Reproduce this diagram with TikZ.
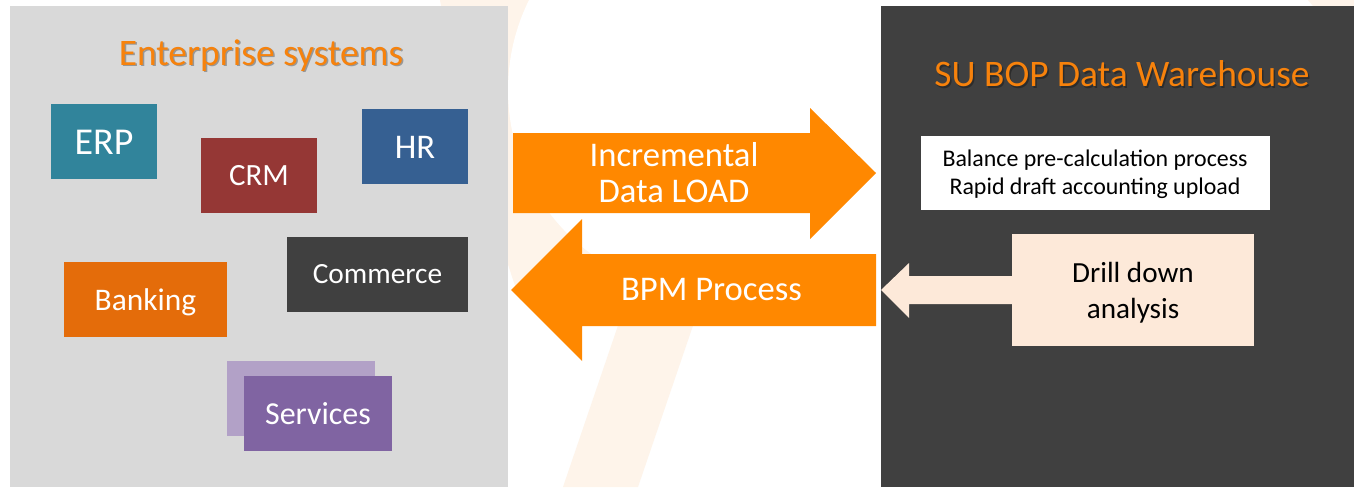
\documentclass[tikz,border=0pt]{standalone}
\usepackage{fontspec}
\setmainfont{Carlito}
\usetikzlibrary{positioning}

\definecolor{panelgray}{HTML}{D9D9D9}
\definecolor{paneldark}{HTML}{404040}
\definecolor{bigorange}{HTML}{FF8800}
\definecolor{titleorange}{HTML}{F7820C}
\definecolor{erpteal}{HTML}{31849B}
\definecolor{crmred}{HTML}{953735}
\definecolor{hrblue}{HTML}{366092}
\definecolor{bankorange}{HTML}{E46C0A}
\definecolor{servpurple}{HTML}{8064A2}
\definecolor{servlilac}{HTML}{B2A1C7}
\definecolor{drillpeach}{HTML}{FDE9D9}
\definecolor{markorange}{HTML}{FEF4EA}

\begin{document}
\begin{tikzpicture}[x=0.02cm, y=-0.02cm,
    panel node/.style={rectangle, fill=#1, inner sep=0pt, minimum height=9.62cm},
    sys node/.style={rectangle, fill=#1, inner sep=0pt, minimum height=1.5cm},
    sys text/.style={text=white, inner sep=0pt, anchor=base},
    title node/.style={text=titleorange, inner sep=0pt, anchor=base, font=\fontsize{21.3}{25}\selectfont},
    shadow node/.style={text=black, opacity=.3, inner sep=0pt, anchor=base, font=\fontsize{21.3}{25}\selectfont},
    big arrow/.style={fill=bigorange},
    arrow text/.style={text=white, align=center, inner sep=0pt}]

\useasboundingbox (0,0) rectangle (1354,487);
\fill[white] (0,0) rectangle (1354,487);

% faint logo behind everything
\fill[markorange] (440,0) -- (700,0) -- (700,300) -- (520,300)
  .. controls (485,200) and (455,80) .. (440,0) -- cycle;
\fill[white] (711,90) circle[radius=203];
\fill[markorange] (563,487) -- (638,487) -- (700,305) -- (625,305) -- cycle;
\fill[markorange] (1308,0) -- (1354,0) -- (1354,6) -- (1313,6) -- cycle;

% the two panels
\node[panel node=panelgray, minimum width=9.96cm] (ent) at (259,246.5) {};
\node[panel node=paneldark, minimum width=9.46cm] (dwh) at (1117.5,246.5) {};

\node[shadow node] (entshadow) at (262.5,66.5) {Enterprise systems};
\node[title node] (enttitle) at (261,65) {Enterprise systems};
\node[shadow node] (dwhshadow) at (1123.5,88.2) {SU BOP Data Warehouse};
\node[title node] (dwhtitle) at (1122,86.7) {SU BOP Data Warehouse};

% enterprise systems
\node[sys node=erpteal, minimum width=2.12cm] (erp) at (104,141.5) {};
\node[sys text, font=\fontsize{21.6}{26}\selectfont] (erptext) at (104,154) {ERP};
\node[sys node=crmred, minimum width=2.32cm] (crm) at (259,175.5) {};
\node[sys text, font=\fontsize{17.6}{21}\selectfont] (crmtext) at (259,185.7) {CRM};
\node[sys node=hrblue, minimum width=2.12cm] (hr) at (415,146.5) {};
\node[sys text, font=\fontsize{19.7}{24}\selectfont] (hrtext) at (415,158.3) {HR};
\node[sys node=paneldark, minimum width=3.62cm] (commerce) at (377.5,274.5) {};
\node[sys text, font=\fontsize{16.7}{20}\selectfont] (commercetext) at (377.5,283.3) {Commerce};
\node[sys node=bankorange, minimum width=3.26cm] (banking) at (145.5,299.5) {};
\node[sys text, font=\fontsize{17.9}{21}\selectfont] (bankingtext) at (145.5,310) {Banking};
\node[sys node=servlilac, minimum width=2.96cm] (servback) at (301,398.5) {};
\node[sys node=servpurple, minimum width=2.96cm] (services) at (318,413.5) {};
\node[sys text, font=\fontsize{18.2}{22}\selectfont] (servicestext) at (318,424) {Services};

% big arrows between the panels
\fill[big arrow] (513,133) -- (810,133) -- (810,108) -- (876,173) -- (810,239)
  -- (810,213) -- (513,213) -- cycle;
\fill[big arrow] (511,290) -- (582,219) -- (582,254) -- (876,254) -- (876,326)
  -- (582,326) -- (582,361) -- cycle;
\node[arrow text, font=\fontsize{19.7}{20.8}\selectfont] (load) at (674,172.5) {Incremental\\Data LOAD};
\node[arrow text, anchor=base, font=\fontsize{19.7}{23}\selectfont] (bpm) at (711.5,300.7) {BPM Process};

% warehouse content
\node[rectangle, fill=white, inner sep=0pt, minimum width=6.98cm, minimum height=1.48cm] (precalc) at (1095.5,173) {};
\node[align=center, inner sep=0pt, font=\fontsize{13.6}{15.7}\selectfont] (precalctext) at (1095,174)
  {Balance pre-calculation process\\Rapid draft accounting upload};
\fill[drillpeach] (881,290) -- (909,263) -- (909,276) -- (1012,276) -- (1012,304)
  -- (909,304) -- (909,318) -- cycle;
\node[rectangle, fill=drillpeach, inner sep=0pt, minimum width=4.84cm, minimum height=2.24cm] (drill) at (1133,290) {};
\node[align=center, inner sep=0pt, font=\fontsize{16.6}{20.6}\selectfont] (drilltext) at (1133,292.5) {Drill down\\analysis};
\end{tikzpicture}
\end{document}
